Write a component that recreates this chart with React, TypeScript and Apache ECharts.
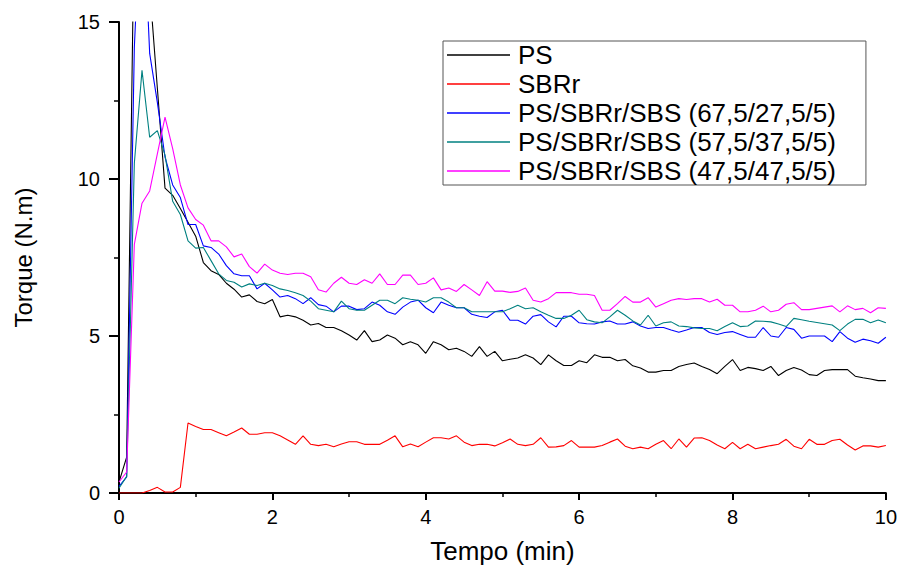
import React, { useEffect, useRef } from "react";
import * as echarts from "echarts";

const TIME = [
  0, 0.1, 0.2, 0.3, 0.4, 0.5, 0.6, 0.7, 0.8, 0.9,
  1, 1.1, 1.2, 1.3, 1.4, 1.5, 1.6, 1.7, 1.8, 1.9,
  2, 2.1, 2.2, 2.3, 2.4, 2.5, 2.6, 2.7, 2.8, 2.9,
  3, 3.1, 3.2, 3.3, 3.4, 3.5, 3.6, 3.7, 3.8, 3.9,
  4, 4.1, 4.2, 4.3, 4.4, 4.5, 4.6, 4.7, 4.8, 4.9,
  5, 5.1, 5.2, 5.3, 5.4, 5.5, 5.6, 5.7, 5.8, 5.9,
  6, 6.1, 6.2, 6.3, 6.4, 6.5, 6.6, 6.7, 6.8, 6.9,
  7, 7.1, 7.2, 7.3, 7.4, 7.5, 7.6, 7.7, 7.8, 7.9,
  8, 8.1, 8.2, 8.3, 8.4, 8.5, 8.6, 8.7, 8.8, 8.9,
  9, 9.1, 9.2, 9.3, 9.4, 9.5, 9.6, 9.7, 9.8, 9.9,
  10,
];

const PS = [
  0.35, 1.14, 18.5, 19.5, 16.1, 12.9, 9.71, 9.48, 9.06, 8.62,
  8.18, 7.34, 7.08, 6.96, 6.68, 6.49, 6.24, 6.31, 6.1, 6.03,
  6.16, 5.61, 5.66, 5.61, 5.5, 5.35, 5.4, 5.27, 5.27, 5.17,
  5.03, 4.87, 5.17, 4.82, 4.87, 5.03, 4.93, 4.72, 4.82, 4.72,
  4.45, 4.82, 4.72, 4.56, 4.61, 4.51, 4.35, 4.66, 4.35, 4.51,
  4.21, 4.26, 4.3, 4.4, 4.3, 4.09, 4.4, 4.21, 4.06, 4.06,
  4.21, 4.15, 4.4, 4.32, 4.32, 4.21, 4.25, 4.05, 3.98, 3.85,
  3.85, 3.9, 3.9, 4.03, 4.09, 4.14, 4.03, 3.93, 3.8, 4.03,
  4.25, 3.9, 4.0, 3.96, 3.9, 4.03, 3.74, 3.9, 4.0, 3.92,
  3.77, 3.74, 3.9, 3.93, 3.93, 3.93, 3.72, 3.67, 3.63, 3.58,
  3.58,
];

const SBRR = [
  0, 0, 0, 0, 0.08, 0.18, 0.03, 0.03, 0.18, 2.23,
  2.12, 2.02, 2.02, 1.92, 1.82, 1.94, 2.07, 1.87, 1.87, 1.92,
  1.92, 1.82, 1.69, 1.55, 1.82, 1.55, 1.51, 1.55, 1.47, 1.56,
  1.63, 1.63, 1.55, 1.55, 1.55, 1.68, 1.82, 1.47, 1.56, 1.47,
  1.62, 1.76, 1.76, 1.72, 1.82, 1.62, 1.51, 1.55, 1.55, 1.5,
  1.6, 1.72, 1.55, 1.51, 1.55, 1.76, 1.46, 1.47, 1.51, 1.67,
  1.46, 1.46, 1.46, 1.51, 1.62, 1.72, 1.49, 1.41, 1.46, 1.41,
  1.55, 1.67, 1.41, 1.72, 1.46, 1.75, 1.76, 1.67, 1.53, 1.41,
  1.61, 1.41, 1.55, 1.41, 1.46, 1.51, 1.55, 1.71, 1.49, 1.41,
  1.71, 1.55, 1.55, 1.67, 1.71, 1.53, 1.37, 1.5, 1.5, 1.46,
  1.51,
];

const BLEND_67 = [
  0.21, 0.51, 14.2, 19.5, 14.0, 12.44, 10.7, 9.81, 9.41, 8.55,
  8.55, 7.87, 7.82, 7.61, 7.24, 6.98, 6.92, 6.92, 6.5, 6.68,
  6.47, 6.24, 6.29, 6.19, 6.03, 6.22, 6.0, 5.95, 5.77, 5.95,
  5.95, 5.84, 5.87, 6.08, 5.98, 5.77, 5.69, 5.92, 6.08, 6.14,
  5.9, 5.74, 6.08, 5.98, 5.9, 5.9, 5.69, 5.63, 5.59, 5.77,
  5.82, 5.5, 5.5, 5.38, 5.63, 5.68, 5.45, 5.29, 5.63, 5.63,
  5.42, 5.39, 5.38, 5.45, 5.48, 5.38, 5.38, 5.45, 5.32, 5.24,
  5.27, 5.27, 5.19, 5.12, 5.19, 5.27, 5.27, 5.11, 5.05, 5.11,
  5.14, 5.05, 4.96, 4.96, 5.27, 5.0, 4.96, 5.27, 5.21, 4.93,
  5.0, 5.0, 5.0, 4.82, 5.14, 4.93, 4.8, 4.9, 4.85, 4.77,
  4.96,
];

const BLEND_57 = [
  0.15, 0.53, 10.5, 13.46, 11.33, 11.54, 10.76, 9.29, 8.87, 8.03,
  7.8, 7.82, 7.4, 6.98, 6.77, 6.71, 6.56, 6.66, 6.61, 6.68,
  6.61, 6.5, 6.45, 6.38, 6.29, 6.11, 5.87, 5.82, 5.77, 6.11,
  5.87, 5.82, 5.82, 5.98, 6.14, 6.14, 6.03, 6.22, 6.17, 6.14,
  6.08, 6.22, 6.22, 6.08, 5.9, 5.9, 5.77, 5.77, 5.77, 5.77,
  5.77, 5.87, 5.98, 5.87, 5.9, 5.77, 5.66, 5.56, 5.56, 5.66,
  5.82, 5.52, 5.45, 5.42, 5.61, 5.82, 5.66, 5.48, 5.35, 5.66,
  5.32, 5.42, 5.45, 5.32, 5.3, 5.26, 5.24, 5.24, 5.17, 5.3,
  5.42, 5.3, 5.32, 5.48, 5.47, 5.45, 5.38, 5.3, 5.56, 5.52,
  5.47, 5.43, 5.39, 5.35, 5.17, 5.38, 5.53, 5.53, 5.42, 5.51,
  5.42,
];

const BLEND_47 = [
  0.35, 0.67, 7.92, 9.23, 9.62, 10.8, 11.97, 10.97, 9.81, 9.08,
  8.71, 8.53, 8.03, 8.03, 7.84, 7.52, 7.61, 7.21, 7.0, 7.29,
  7.1, 7.0, 6.96, 7.0, 7.0, 6.89, 6.47, 6.4, 6.68, 6.87,
  6.68, 6.64, 6.79, 6.68, 6.98, 6.64, 6.64, 6.94, 6.94, 6.64,
  6.68, 6.85, 6.47, 6.53, 6.42, 6.64, 6.47, 6.29, 6.73, 6.43,
  6.43, 6.39, 6.42, 6.53, 6.14, 6.08, 6.19, 6.38, 6.38, 6.38,
  6.33, 6.33, 6.29, 5.82, 5.82, 6.03, 6.26, 6.08, 6.08, 6.22,
  5.92, 6.03, 6.14, 6.19, 6.16, 6.19, 6.19, 6.08, 6.17, 5.98,
  5.98, 5.77, 5.77, 5.82, 5.95, 5.77, 5.82, 6.01, 6.06, 5.84,
  5.84, 5.88, 5.92, 5.96, 5.77, 5.96, 5.84, 5.88, 5.74, 5.9,
  5.88,
];

const SERIES_NAMES = [
  "PS",
  "SBRr",
  "PS/SBRr/SBS (67,5/27,5/5)",
  "PS/SBRr/SBS (57,5/37,5/5)",
  "PS/SBRr/SBS (47,5/47,5/5)",
];
const SERIES_VALUES = [PS, SBRR, BLEND_67, BLEND_57, BLEND_47];
const SERIES_COLORS = ["#000000", "#ff0000", "#0000ff", "#008080", "#ff00ff"];

const FONT = "'Liberation Sans', Arial, sans-serif";

export default function App() {
  const ref = useRef<HTMLDivElement>(null);

  useEffect(() => {
    if (!ref.current) return;
    const chart = echarts.init(ref.current, undefined, { renderer: "svg" });

    const series = SERIES_NAMES.map((name, k) => ({
      name,
      type: "line",
      data: TIME.map((t, i) => [t, SERIES_VALUES[k][i]]),
      showSymbol: false,
      symbol: "none",
      clip: true,
      lineStyle: { color: SERIES_COLORS[k], width: 1.1 },
      itemStyle: { color: SERIES_COLORS[k] },
    }));

    chart.setOption({
      animation: false,
      backgroundColor: "#ffffff",
      textStyle: { fontFamily: FONT },
      grid: { left: 119, right: 14, top: 22, bottom: 70, containLabel: false },
      legend: {
        orient: "vertical",
        left: 443,
        top: 41,
        data: SERIES_NAMES.map((name) => ({ name, icon: "rect" })),
        selectedMode: false,
        itemWidth: 63,
        itemHeight: 1.5,
        itemGap: 1,
        padding: [0, 30, 0, 4],
        borderColor: "#555555",
        borderWidth: 1,
        textStyle: {
          fontFamily: FONT,
          fontSize: 26,
          color: "#000000",
          lineHeight: 28,
          padding: [0, 0, 0, 3],
        },
      },
      xAxis: {
        type: "value",
        min: 0,
        max: 10,
        interval: 2,
        name: "Tempo (min)",
        nameLocation: "middle",
        nameGap: 45,
        nameTextStyle: { fontFamily: FONT, fontSize: 26, color: "#000000" },
        axisLine: { show: true, onZero: false, lineStyle: { color: "#000000", width: 2 } },
        axisTick: { show: true, inside: false, length: 7, lineStyle: { color: "#000000", width: 2 } },
        minorTick: { show: true, splitNumber: 2, length: 4, lineStyle: { color: "#000000", width: 1.5 } },
        axisLabel: { fontFamily: FONT, fontSize: 20, color: "#000000", margin: 14 },
        splitLine: { show: false },
        minorSplitLine: { show: false },
      },
      yAxis: {
        type: "value",
        min: 0,
        max: 15,
        interval: 5,
        name: "Torque (N.m)",
        nameLocation: "middle",
        nameGap: 84,
        nameTextStyle: { fontFamily: FONT, fontSize: 24, color: "#000000" },
        axisLine: { show: true, lineStyle: { color: "#000000", width: 2 } },
        axisTick: { show: true, inside: false, length: 10, lineStyle: { color: "#000000", width: 2 } },
        minorTick: { show: true, splitNumber: 2, length: 5, lineStyle: { color: "#000000", width: 1.5 } },
        axisLabel: { fontFamily: FONT, fontSize: 20, color: "#000000", margin: 19 },
        splitLine: { show: false },
        minorSplitLine: { show: false },
      },
      series,
    });

    return () => {
      chart.dispose();
    };
  }, []);

  return (
    <div
      ref={ref}
      style={{ position: "fixed", left: 0, top: 0, width: 900, height: 569, background: "#fff" }}
    />
  );
}
